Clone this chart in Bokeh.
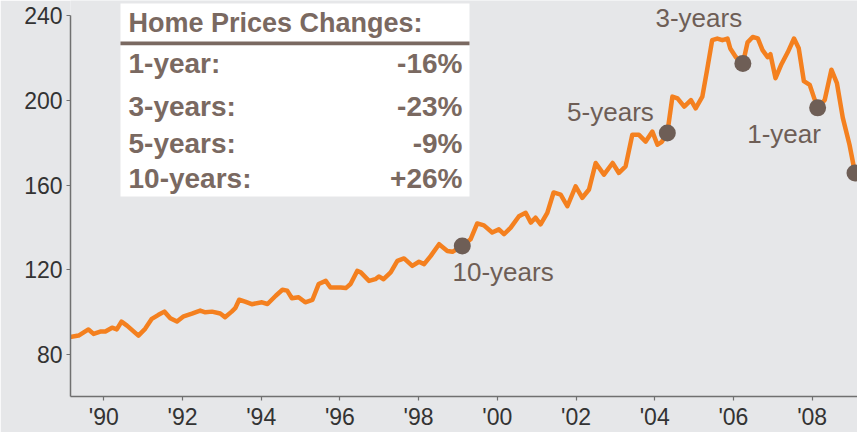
from bokeh.plotting import figure
from bokeh.models import ColumnDataSource, Range1d, FixedTicker, BoxAnnotation
from bokeh.core.properties import value
from bokeh.embed import file_html
from bokeh.resources import INLINE

# ---- data ----
years = [1989.14, 1989.36, 1989.61, 1989.74, 1989.91, 1990.04, 1990.21, 1990.33, 1990.45, 1990.59,
         1990.88, 1991.05, 1991.22, 1991.39, 1991.54, 1991.69, 1991.86, 1992.03, 1992.24, 1992.45,
         1992.58, 1992.75, 1992.96, 1993.08, 1993.25, 1993.34, 1993.44, 1993.59, 1993.76, 1994.02,
         1994.16, 1994.37, 1994.54, 1994.66, 1994.78, 1994.95, 1995.12, 1995.30, 1995.46, 1995.64,
         1995.76, 1996.02, 1996.15, 1996.27, 1996.44, 1996.53, 1996.74, 1996.90, 1996.99, 1997.11,
         1997.29, 1997.46, 1997.63, 1997.84, 1998.01, 1998.14, 1998.31, 1998.52, 1998.73, 1998.86,
         1999.11, 1999.32, 1999.49, 1999.66, 1999.87, 2000.04, 2000.17, 2000.34, 2000.55, 2000.72,
         2000.85, 2000.97, 2001.10, 2001.27, 2001.43, 2001.61, 2001.78, 2001.99, 2002.16, 2002.33,
         2002.50, 2002.71, 2002.93, 2003.09, 2003.26, 2003.43, 2003.60, 2003.77, 2003.94, 2004.07,
         2004.18, 2004.32, 2004.45, 2004.58, 2004.75, 2004.92, 2005.04, 2005.21, 2005.33, 2005.46,
         2005.59, 2005.72, 2005.85, 2005.92, 2006.06, 2006.24, 2006.36, 2006.49, 2006.62, 2006.74,
         2006.87, 2006.94, 2007.07, 2007.22, 2007.38, 2007.54, 2007.66, 2007.79, 2007.94, 2008.05,
         2008.14, 2008.32, 2008.49, 2008.63, 2008.78, 2008.95, 2009.09]
index_values = [88.3, 89.0, 91.9, 89.8, 90.9, 90.9, 92.7, 91.9, 95.6, 93.7,
                89.0, 92.2, 96.9, 98.8, 100.3, 97.2, 95.6, 98.1, 99.4, 100.8,
                100.0, 100.3, 99.4, 97.7, 100.3, 101.9, 105.9, 105.0, 103.8, 104.7,
                103.9, 107.8, 110.6, 110.2, 106.6, 107.1, 104.7, 105.8, 113.3, 114.8,
                111.7, 111.7, 111.4, 113.3, 119.5, 118.8, 114.8, 115.6, 116.9, 115.6,
                118.8, 124.2, 125.4, 121.9, 123.8, 122.7, 126.6, 132.1, 128.9, 128.5,
                131.3, 134.4, 141.9, 141.0, 137.6, 139.1, 136.8, 139.9, 145.3, 146.9,
                142.3, 144.6, 141.5, 146.9, 156.5, 155.5, 150.0, 159.4, 154.0, 157.9,
                170.4, 164.9, 170.4, 165.7, 168.8, 183.7, 183.7, 180.5, 185.2, 179.0,
                180.4, 184.5, 201.7, 200.9, 197.0, 200.1, 196.2, 201.7, 214.2, 228.3,
                229.1, 228.3, 229.1, 224.4, 220.4, 217.3, 227.3, 229.8, 229.2, 223.6,
                220.3, 221.7, 210.4, 217.0, 222.6, 229.1, 224.5, 209.0, 207.2, 201.1,
                196.4, 200.1, 214.4, 208.1, 191.7, 179.0, 165.7]

mark_names = ["10-years", "5-years", "3-years", "1-year", "now"]
mark_years = [1999.11, 2004.32, 2006.24, 2008.14, 2009.09]
mark_values = [131.3, 184.5, 217.3, 196.4, 165.7]

table_title = "Home Prices Changes:"
table_periods = ["1-year:", "3-years:", "5-years:", "10-years:"]
table_changes = ["-16%", "-23%", "-9%", "+26%"]

x_ticks = [1990, 1992, 1994, 1996, 1998, 2000, 2002, 2004, 2006, 2008]
x_tick_labels = ["'90", "'92", "'94", "'96", "'98", "'00", "'02", "'04", "'06", "'08"]
y_ticks = [80, 120, 160, 200, 240]

# ---- layout / style ----
BG = "#e6e7e9"
ORANGE = "#f4801f"
BROWN = "#6e5e56"
TABLE_TXT = "#7a6961"
FONT = "Liberation Sans"
Y0, Y1 = 60.27, 247.04

p = figure(width=857, height=432,
           x_range=Range1d(1989.154, 2009.153), y_range=Range1d(Y0, Y1),
           output_backend="svg", toolbar_location=None,
           min_border_left=70, min_border_right=0, min_border_top=0, min_border_bottom=34)
p.background_fill_color = BG
p.border_fill_color = BG
p.outline_line_color = None
p.xgrid.grid_line_color = None
p.ygrid.grid_line_color = None

# axes
p.xaxis.ticker = FixedTicker(ticks=x_ticks)
p.xaxis.major_label_overrides = {t: l for t, l in zip(x_ticks, x_tick_labels)}
p.yaxis.ticker = FixedTicker(ticks=y_ticks)
p.yaxis.bounds = (Y0, 240)
for ax in (p.xaxis, p.yaxis):
    ax.axis_line_color = "#707070"
    ax.axis_line_width = 1.5
    ax.major_tick_line_color = "#707070"
    ax.major_tick_line_width = 1.2
    ax.major_tick_out = 4
    ax.major_tick_in = 0
    ax.minor_tick_line_color = None
    ax.major_label_text_color = "#333333"
    ax.major_label_text_font = FONT
p.xaxis.major_label_text_font_size = "23px"
p.xaxis.major_label_standoff = 3
p.yaxis.major_label_text_font_size = "23px"
p.yaxis.major_label_standoff = 4

# table box
p.add_layout(BoxAnnotation(left=1990.424, right=1999.293, bottom=154.6, top=245.6,
                           fill_color="white", fill_alpha=1, line_color=None, level="underlay"))
p.add_layout(BoxAnnotation(left=1990.424, right=1999.293, bottom=225.9, top=227.7,
                           fill_color=TABLE_TXT, fill_alpha=1, line_color=None, level="underlay"))

# line and markers
src = ColumnDataSource(dict(x=years, y=index_values))
p.line("x", "y", source=src, line_color=ORANGE, line_width=4.5, line_join="round")
msrc = ColumnDataSource(dict(x=mark_years, y=mark_values, name=mark_names))
p.scatter("x", "y", source=msrc, size=17, marker="circle", fill_color=BROWN, line_color=None)

# table texts
p.text(x=[1990.628], y=[236.6], text=[table_title], text_font=value(FONT), text_font_style="bold",
       text_font_size="27px", text_color=TABLE_TXT, text_baseline="alphabetic", text_align="left")
row_y = [217.5, 196.9, 179.5, 163.1]
p.text(x=[1990.628] * 4, y=row_y, text=table_periods, text_font=value(FONT), text_font_style="bold",
       text_font_size="28px", text_color=TABLE_TXT, text_baseline="alphabetic", text_align="left")
p.text(x=[1999.115] * 4, y=row_y, text=table_changes, text_font=value(FONT), text_font_style="bold",
       text_font_size="28px", text_color=TABLE_TXT, text_baseline="alphabetic", text_align="right")

# marker labels
p.text(x=[1998.861, 2004.02, 2006.351], y=[119.0, 239.0, 184.3],
       text=[mark_names[0], mark_names[2], mark_names[3]], text_font=value(FONT),
       text_font_size="26px", text_color=BROWN, text_baseline="alphabetic", text_align="left")
p.text(x=[2003.977], y=[194.6], text=[mark_names[1]], text_font=value(FONT),
       text_font_size="26px", text_color=BROWN, text_baseline="alphabetic", text_align="right")

open("out.html", "w").write(file_html(p, INLINE))
